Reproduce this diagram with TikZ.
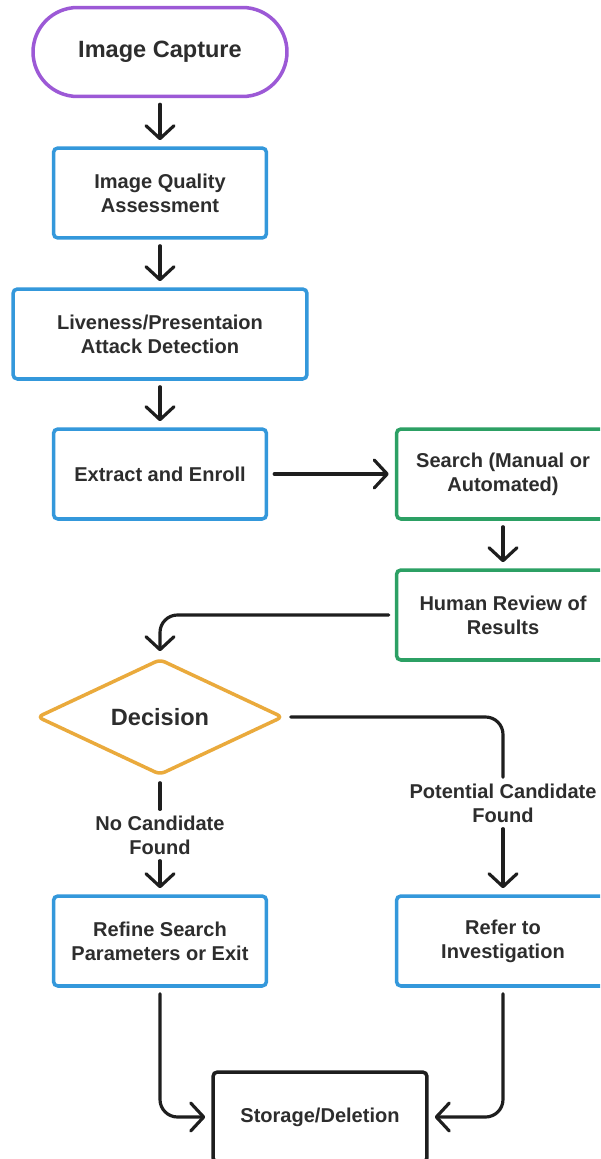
\documentclass[tikz,border=0pt]{standalone}
\usepackage{fontspec}
\setmainfont{Liberation Sans}
\usepackage{xcolor}
\definecolor{capturepurple}{RGB}{156,89,214}
\definecolor{stepblue}{RGB}{52,152,219}
\definecolor{searchgreen}{RGB}{44,160,100}
\definecolor{decorange}{RGB}{234,170,60}
\definecolor{textgray}{RGB}{45,45,45}
\definecolor{linegray}{RGB}{30,30,30}
\usetikzlibrary{shapes.geometric,arrows.meta}

\begin{document}
\begin{tikzpicture}[x=0.02cm,y=-0.02cm,
  font=\fontsize{11.4}{13.6}\selectfont\bfseries,
  every node/.style={align=center,text=textgray},
  stepbox/.style={draw=#1,line width=2pt,rounded corners=2.5pt,fill=white,
    minimum width=4.26cm,minimum height=1.8cm,inner sep=2pt},
  bigtext/.style={font=\fontsize{13.4}{16}\selectfont\bfseries},
  lbl/.style={inner sep=0pt},
  link/.style={draw=linegray,line width=1.8pt,line cap=round,line join=round,
    shorten <=0.12cm,shorten >=0.12cm},
  conn/.style={link,-{Straight Barb[length=2.6mm,width=5.6mm,round]}}]
  % lienzo 600 x 1159 px, 1 px = 0.02 cm, y hacia abajo
  \useasboundingbox (0,0) rectangle (600,1159);
  \clip (0,0) rectangle (600,1159);
  \fill[white] (0,0) rectangle (600,1159);
  % --- columna principal ---
  \node[stepbox=capturepurple,bigtext,minimum width=5.08cm,minimum height=1.78cm,
    rounded corners=0.89cm] (capture) at (160,52) {Image Capture};
  \node[stepbox=stepblue] (quality) at (160,193) {Image Quality\\Assessment};
  \node[stepbox=stepblue,minimum width=5.88cm] (liveness) at (160,334) {Liveness/Presentaion\\Attack Detection};
  \node[stepbox=stepblue] (extract) at (160,474) {Extract and Enroll};
  % --- columna derecha ---
  \node[stepbox=searchgreen] (search) at (503,474) {Search (Manual or\\Automated)};
  \node[stepbox=searchgreen] (review) at (503,615) {Human Review of\\Results};
  % --- decision ---
  \node[diamond,draw=decorange,line width=2pt,rounded corners=3pt,fill=white,bigtext,
    minimum width=4.92cm,minimum height=2.32cm,inner sep=0pt] (decision) at (160,717) {Decision};
  \node[lbl] (nocand) at (160,835) {No Candidate\\Found};
  \node[lbl] (potcand) at (503,803) {Potential Candidate\\Found};
  \node[stepbox=stepblue] (refine) at (160,941) {Refine Search\\Parameters or Exit};
  \node[stepbox=stepblue] (refer) at (503,941) {Refer to\\Investigation};
  \node[stepbox=linegray,minimum width=4.28cm] (storage) at (320,1117) {Storage/Deletion};
  % flechas
  \draw[conn] (capture) -- (quality);
  \draw[conn] (quality) -- (liveness);
  \draw[conn] (liveness) -- (extract);
  \draw[conn] (extract) -- (search);
  \draw[conn] (search) -- (review);
  \draw[conn,rounded corners=0.35cm] (review.west) -| (decision.north);
  \draw[link] (decision.south) -- (nocand.north);
  \draw[conn] (nocand.south) -- (refine.north);
  \draw[link,rounded corners=0.35cm] (decision.east) -| (potcand.north);
  \draw[conn] (potcand.south) -- (refer.north);
  \draw[conn,rounded corners=0.35cm] (refine.south) |- (storage.west);
  \draw[conn,rounded corners=0.35cm] (refer.south) |- (storage.east);
\end{tikzpicture}
\end{document}
